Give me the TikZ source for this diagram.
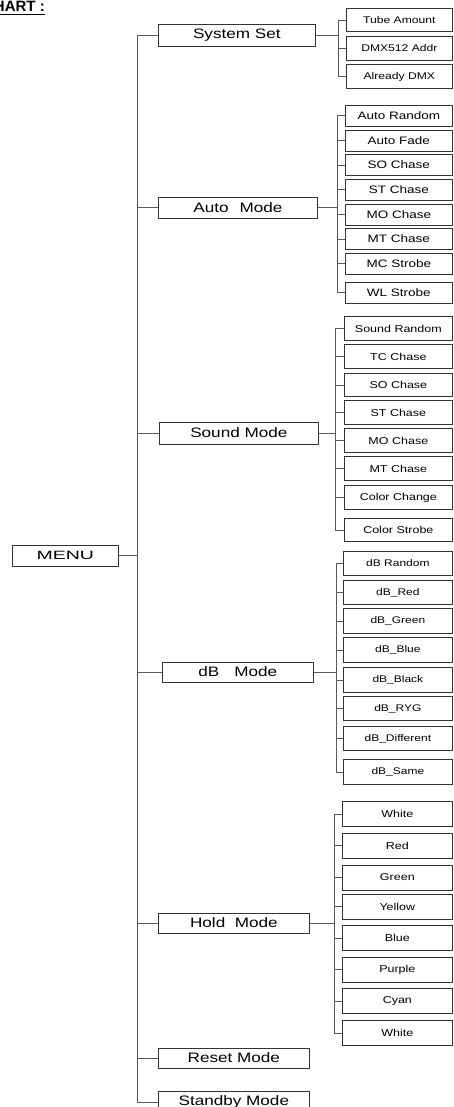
\documentclass[tikz,border=0pt]{standalone}
\usepackage{fontspec}
\setmainfont{Liberation Sans}
\newfontfamily\wfont[FakeStretch=1.25]{Liberation Sans}
\begin{document}
\begin{tikzpicture}[x=1pt,y=-1pt,
  box/.style={draw=black!80,line width=0.7pt,inner sep=0pt,anchor=west,fill=white},
  modebox/.style={box,minimum height=21,font=\wfont\fontsize{13.7}{15}\selectfont},
  subbox/.style={box,font=\wfont\fontsize{10}{12}\selectfont},
  link/.style={draw=black!65,line width=0.8pt}]
\useasboundingbox (0,0) rectangle (453,1107);
% title (cut off at top-left, as in the reference)
\node[anchor=base east,inner sep=0pt,font=\bfseries\fontsize{15}{17}\selectfont] (title) at (45,12) {CHART :};
\draw[line width=1.6pt] (title.base west) ++(0,2.5) coordinate (u1) -- (u1 -| title.base east);
% trunk
\coordinate (t) at (137,0);
% MENU
\node[box,minimum width=106,minimum height=21,font=\wfont\fontsize{12}{14}\selectfont] (menu) at (12,555.5) {\scalebox{1.3}[1]{MENU}};
% mode boxes
\node[modebox,minimum width=157,minimum height=22] (mSys) at (158,35) {System Set};
\node[modebox,minimum width=159] (mAuto) at (158,207.5) {Auto\hspace{0.8em}Mode};
\node[modebox,minimum width=159,minimum height=22] (mSound) at (159,433) {Sound Mode};
\node[modebox,minimum width=151,minimum height=20] (mDB) at (162,672) {dB\hspace{1.1em}Mode};
\node[modebox,minimum width=151,minimum height=20] (mHold) at (158,923) {Hold\ \ Mode};
\node[modebox,minimum width=151,minimum height=20] (mReset) at (158,1058) {Reset Mode};
\node[modebox,minimum width=151,minimum height=22] (mStby) at (158,1102) {Standby Mode};
% trunk lines
\draw[link] (mSys.west) -- (mSys.west -| t) -- (mStby.west -| t) -- (mStby.west);
\foreach \m in {mAuto,mSound,mDB,mHold,mReset} \draw[link] (\m.west) -- (\m.west -| t);
\draw[link] (menu.east) -- (menu.east -| t);
% System Set group
\foreach \t/\y [count=\i] in {Tube Amount/20,DMX512 Addr/48.5,Already DMX/76.5}
  \node[subbox,minimum width=106,minimum height=23.5,font=\wfont\fontsize{9.7}{12}\selectfont] (sy\i) at (346,\y) {\t};
\coordinate (bSy) at (338,0);
\draw[link] (mSys.east) -- (mSys.east -| bSy);
\draw[link] (sy1.west) -- (sy1.west -| bSy) -- (sy3.west -| bSy) -- (sy3.west);
\draw[link] (sy2.west) -- (sy2.west -| bSy);
% Auto Mode group
\foreach \t/\y [count=\i] in {Auto Random/115.5,Auto Fade/140.5,SO Chase/165,ST Chase/189.5,MO Chase/214.5,MT Chase/239,MC Strobe/263.5,WL Strobe/292.5}
  \node[subbox,minimum width=107,minimum height=21,font=\wfont\fontsize{10.8}{12}\selectfont] (au\i) at (345,\y) {\t};
\coordinate (bAu) at (337,0);
\draw[link] (mAuto.east) -- (mAuto.east -| bAu);
\draw[link] (au1.west) -- (au1.west -| bAu) -- (au8.west -| bAu) -- (au8.west);
\foreach \i in {2,...,7} \draw[link] (au\i.west) -- (au\i.west -| bAu);
% Sound Mode group
\foreach \t/\y [count=\i] in {Sound Random/328.5,TC Chase/356.5,SO Chase/385,ST Chase/412.5,MO Chase/440.5,MT Chase/468.5,Color Change/497.5,Color Strobe/530}
  \node[subbox,minimum width=108,minimum height=23.5] (so\i) at (344,\y) {\t};
\coordinate (bSo) at (335,0);
\draw[link] (mSound.east) -- (mSound.east -| bSo);
\draw[link] (so1.west) -- (so1.west -| bSo) -- (so8.west -| bSo) -- (so8.west);
\foreach \i in {2,...,7} \draw[link] (so\i.west) -- (so\i.west -| bSo);
% dB Mode group
\foreach \t/\y [count=\i] in {dB Random/563.5,dB\_Red/592.5,dB\_Green/621,dB\_Blue/650,dB\_Black/680,dB\_RYG/708.5,dB\_Different/738.5,dB\_Same/772}
  \node[subbox,minimum width=109,minimum height=24.5,font=\wfont\fontsize{9.6}{12}\selectfont] (db\i) at (343,\y) {\t};
\coordinate (bDb) at (336,0);
\draw[link] (mDB.east) -- (mDB.east -| bDb);
\draw[link] (db1.west) -- (db1.west -| bDb) -- (db8.west -| bDb) -- (db8.west);
\foreach \i in {2,...,7} \draw[link] (db\i.west) -- (db\i.west -| bDb);
% Hold Mode group
\foreach \t/\y [count=\i] in {White/814,Red/845.5,Green/877.5,Yellow/906.5,Blue/938,Purple/969.5,Cyan/1001,White/1033}
  \node[subbox,minimum width=110,minimum height=25] (ho\i) at (342,\y) {\t};
\coordinate (bHo) at (334,0);
\draw[link] (mHold.east) -- (mHold.east -| bHo);
\draw[link] (ho1.west) -- (ho1.west -| bHo) -- (ho8.west -| bHo) -- (ho8.west);
\foreach \i in {2,...,7} \draw[link] (ho\i.west) -- (ho\i.west -| bHo);
\end{tikzpicture}
\end{document}
